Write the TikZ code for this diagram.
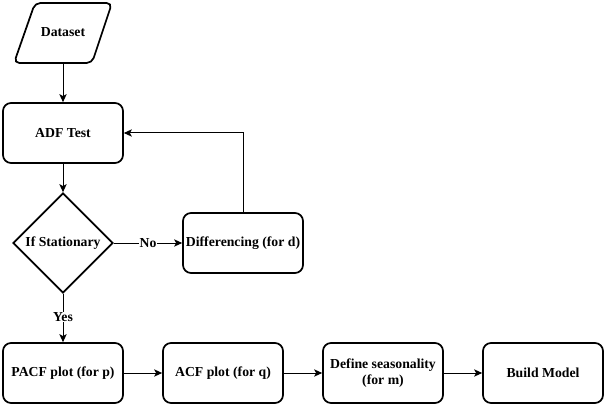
\documentclass[tikz,border=0pt]{standalone}
\usepackage{fontspec}
\setmainfont{Liberation Serif}[BoldFont={Liberation Serif Bold}]
\usetikzlibrary{shapes.geometric,arrows.meta}
\begin{document}
\begin{tikzpicture}[x=0.75pt,y=-0.75pt,
  txt/.style={font=\rmfamily\bfseries\fontsize{10.3}{11.5}\selectfont},
  box/.style={txt,draw,line width=1.3pt,rounded corners=6pt,minimum width=90pt,minimum height=45pt,align=center,inner sep=1pt},
  dec/.style={txt,draw,line width=1.3pt,diamond,aspect=1,minimum width=75pt,minimum height=75pt,inner sep=0pt},
  conn/.style={line width=0.75pt,-{Stealth[length=6pt,width=5.5pt,inset=1.5pt]}},
  lab/.style={txt,fill=white,inner sep=0.5pt}]
\useasboundingbox (0,0) rectangle (606,406);
% Dataset parallelogram
\draw[line width=1.3pt,rounded corners=4pt] (35,3) -- (112,3) -- (92,63) -- (14,63) -- cycle;
\node[txt,minimum width=60pt,minimum height=45pt] (data) at (63,32) {Dataset};
\node[box] (adf) at (63,133) {ADF Test};
\node[dec] (stat) at (63,243) {If Stationary};
\node[box] (diff) at (243,243) {Differencing (for d)};
\node[box] (pacf) at (63,373) {PACF plot (for p)};
\node[box] (acf) at (223,373) {ACF plot (for q)};
\node[box] (seas) at (383,373) {Define seasonality\\(for m)};
\node[box] (build) at (543,373) {Build Model};
\draw[conn] (data.south) -- (adf.north);
\draw[conn] (adf.south) -- (stat.north);
\draw[conn] (stat.east) -- node[lab,pos=0.5] {No} (diff.west);
\draw[conn] (diff.north) |- (adf.east);
\draw[conn] (stat.south) -- node[lab,pos=0.48] {Yes} (pacf.north);
\draw[conn] (pacf.east) -- (acf.west);
\draw[conn] (acf.east) -- (seas.west);
\draw[conn] (seas.east) -- (build.west);
\end{tikzpicture}
\end{document}
